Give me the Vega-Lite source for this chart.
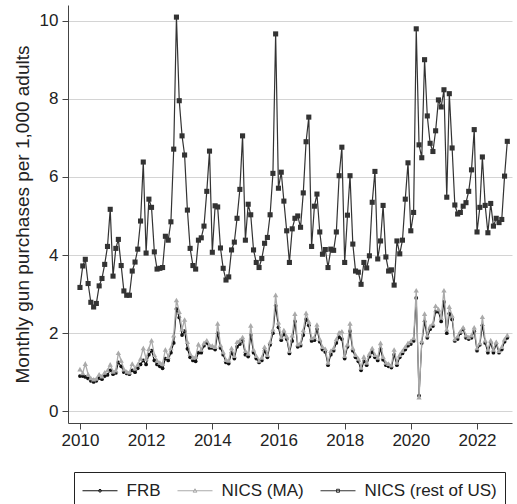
{
  "$schema": "https://vega.github.io/schema/vega-lite/v6.json",
  "width": 444,
  "height": 418,
  "autosize": "none",
  "padding": {"left": 68, "top": 5, "right": 5, "bottom": 81},
  "background": "white",
  "config": {"view": {"stroke": null}, "font": "Liberation Sans"},
  "data": {
    "format": {"parse": {"d": "utc:'%Y-%m'"}},
    "values": [
      {"d":"2010-01","f":0.90,"a":1.08,"r":3.17},{"d":"2010-02","f":0.90,"a":0.98,"r":3.72},{"d":"2010-03","f":0.88,"a":1.22,"r":3.89},{"d":"2010-04","f":0.84,"a":0.95,"r":3.27},{"d":"2010-05","f":0.78,"a":0.85,"r":2.79},{"d":"2010-06","f":0.75,"a":0.82,"r":2.67},{"d":"2010-07","f":0.78,"a":0.84,"r":2.76},{"d":"2010-08","f":0.85,"a":0.95,"r":3.21},{"d":"2010-09","f":0.82,"a":0.90,"r":3.40},{"d":"2010-10","f":0.90,"a":1.00,"r":3.76},{"d":"2010-11","f":0.93,"a":1.05,"r":4.22},{"d":"2010-12","f":1.05,"a":1.20,"r":5.17},
      {"d":"2011-01","f":0.95,"a":1.02,"r":3.46},{"d":"2011-02","f":0.98,"a":1.05,"r":4.17},{"d":"2011-03","f":1.25,"a":1.50,"r":4.40},{"d":"2011-04","f":1.15,"a":1.30,"r":3.73},{"d":"2011-05","f":1.00,"a":1.08,"r":3.08},{"d":"2011-06","f":0.97,"a":1.02,"r":2.97},{"d":"2011-07","f":0.95,"a":1.00,"r":2.97},{"d":"2011-08","f":1.05,"a":1.22,"r":3.59},{"d":"2011-09","f":1.00,"a":1.10,"r":3.82},{"d":"2011-10","f":1.10,"a":1.20,"r":4.15},{"d":"2011-11","f":1.20,"a":1.35,"r":4.87},{"d":"2011-12","f":1.30,"a":1.62,"r":6.38},
      {"d":"2012-01","f":1.20,"a":1.35,"r":4.05},{"d":"2012-02","f":1.45,"a":1.60,"r":5.43},{"d":"2012-03","f":1.55,"a":1.82,"r":5.22},{"d":"2012-04","f":1.30,"a":1.45,"r":4.08},{"d":"2012-05","f":1.20,"a":1.30,"r":3.64},{"d":"2012-06","f":1.15,"a":1.25,"r":3.66},{"d":"2012-07","f":1.10,"a":1.22,"r":3.68},{"d":"2012-08","f":1.35,"a":1.58,"r":4.48},{"d":"2012-09","f":1.30,"a":1.40,"r":4.38},{"d":"2012-10","f":1.50,"a":1.62,"r":4.85},{"d":"2012-11","f":1.75,"a":1.95,"r":6.71},{"d":"2012-12","f":2.62,"a":2.85,"r":10.09},
      {"d":"2013-01","f":2.40,"a":2.55,"r":7.95},{"d":"2013-02","f":1.95,"a":2.10,"r":7.05},{"d":"2013-03","f":2.05,"a":2.35,"r":6.56},{"d":"2013-04","f":1.60,"a":1.78,"r":5.15},{"d":"2013-05","f":1.38,"a":1.48,"r":4.17},{"d":"2013-06","f":1.30,"a":1.38,"r":3.73},{"d":"2013-07","f":1.28,"a":1.40,"r":3.64},{"d":"2013-08","f":1.50,"a":1.72,"r":4.38},{"d":"2013-09","f":1.50,"a":1.58,"r":4.44},{"d":"2013-10","f":1.68,"a":1.75,"r":4.74},{"d":"2013-11","f":1.75,"a":1.82,"r":5.63},{"d":"2013-12","f":1.62,"a":1.70,"r":6.66},
      {"d":"2014-01","f":1.62,"a":1.68,"r":4.07},{"d":"2014-02","f":1.58,"a":1.65,"r":5.26},{"d":"2014-03","f":2.00,"a":2.25,"r":5.23},{"d":"2014-04","f":1.62,"a":1.70,"r":4.18},{"d":"2014-05","f":1.45,"a":1.52,"r":3.66},{"d":"2014-06","f":1.25,"a":1.32,"r":3.36},{"d":"2014-07","f":1.22,"a":1.30,"r":3.44},{"d":"2014-08","f":1.50,"a":1.62,"r":4.13},{"d":"2014-09","f":1.35,"a":1.42,"r":4.33},{"d":"2014-10","f":1.65,"a":1.78,"r":4.94},{"d":"2014-11","f":1.72,"a":1.82,"r":5.68},{"d":"2014-12","f":1.80,"a":1.90,"r":7.05},
      {"d":"2015-01","f":1.45,"a":1.55,"r":4.38},{"d":"2015-02","f":1.40,"a":1.48,"r":5.30},{"d":"2015-03","f":1.95,"a":2.20,"r":5.03},{"d":"2015-04","f":1.50,"a":1.58,"r":4.13},{"d":"2015-05","f":1.35,"a":1.42,"r":3.81},{"d":"2015-06","f":1.25,"a":1.30,"r":3.68},{"d":"2015-07","f":1.30,"a":1.38,"r":3.91},{"d":"2015-08","f":1.55,"a":1.65,"r":4.30},{"d":"2015-09","f":1.38,"a":1.45,"r":4.45},{"d":"2015-10","f":1.70,"a":1.78,"r":5.03},{"d":"2015-11","f":2.00,"a":2.10,"r":6.09},{"d":"2015-12","f":2.70,"a":2.98,"r":9.66},
      {"d":"2016-01","f":2.15,"a":2.28,"r":5.71},{"d":"2016-02","f":1.82,"a":1.90,"r":6.12},{"d":"2016-03","f":1.98,"a":2.08,"r":5.38},{"d":"2016-04","f":1.85,"a":1.92,"r":4.62},{"d":"2016-05","f":1.48,"a":1.55,"r":3.81},{"d":"2016-06","f":1.80,"a":1.95,"r":4.67},{"d":"2016-07","f":2.30,"a":2.50,"r":4.94},{"d":"2016-08","f":1.65,"a":1.72,"r":5.00},{"d":"2016-09","f":1.68,"a":1.75,"r":4.71},{"d":"2016-10","f":1.95,"a":2.08,"r":5.59},{"d":"2016-11","f":2.35,"a":2.52,"r":6.90},{"d":"2016-12","f":2.20,"a":2.30,"r":7.53},
      {"d":"2017-01","f":1.80,"a":1.88,"r":4.22},{"d":"2017-02","f":1.82,"a":1.90,"r":5.25},{"d":"2017-03","f":2.10,"a":2.22,"r":5.56},{"d":"2017-04","f":1.78,"a":1.85,"r":4.59},{"d":"2017-05","f":1.58,"a":1.65,"r":4.02},{"d":"2017-06","f":1.52,"a":1.60,"r":4.14},{"d":"2017-07","f":1.18,"a":1.25,"r":3.68},{"d":"2017-08","f":1.45,"a":1.55,"r":4.15},{"d":"2017-09","f":1.55,"a":1.62,"r":4.12},{"d":"2017-10","f":1.75,"a":1.85,"r":4.59},{"d":"2017-11","f":1.90,"a":2.02,"r":6.03},{"d":"2017-12","f":1.85,"a":2.05,"r":6.76},
      {"d":"2018-01","f":1.35,"a":1.42,"r":3.81},{"d":"2018-02","f":1.65,"a":1.72,"r":5.02},{"d":"2018-03","f":2.05,"a":2.25,"r":6.03},{"d":"2018-04","f":1.55,"a":1.62,"r":4.28},{"d":"2018-05","f":1.38,"a":1.45,"r":3.59},{"d":"2018-06","f":1.28,"a":1.35,"r":3.56},{"d":"2018-07","f":1.05,"a":1.12,"r":3.25},{"d":"2018-08","f":1.28,"a":1.40,"r":3.81},{"d":"2018-09","f":1.18,"a":1.25,"r":3.67},{"d":"2018-10","f":1.40,"a":1.48,"r":3.98},{"d":"2018-11","f":1.52,"a":1.62,"r":5.35},{"d":"2018-12","f":1.38,"a":1.45,"r":6.14},
      {"d":"2019-01","f":1.30,"a":1.38,"r":3.90},{"d":"2019-02","f":1.60,"a":1.75,"r":4.36},{"d":"2019-03","f":1.32,"a":1.40,"r":5.27},{"d":"2019-04","f":1.18,"a":1.25,"r":3.95},{"d":"2019-05","f":1.15,"a":1.22,"r":3.59},{"d":"2019-06","f":1.12,"a":1.18,"r":3.62},{"d":"2019-07","f":1.45,"a":1.58,"r":3.23},{"d":"2019-08","f":1.18,"a":1.25,"r":4.36},{"d":"2019-09","f":1.38,"a":1.45,"r":4.03},{"d":"2019-10","f":1.48,"a":1.55,"r":4.38},{"d":"2019-11","f":1.58,"a":1.65,"r":5.43},{"d":"2019-12","f":1.68,"a":1.75,"r":6.36},
      {"d":"2020-01","f":1.72,"a":1.80,"r":4.62},{"d":"2020-02","f":1.80,"a":1.88,"r":5.09},{"d":"2020-03","f":2.90,"a":3.10,"r":9.79},{"d":"2020-04","f":0.40,"a":0.36,"r":6.82},{"d":"2020-05","f":1.75,"a":1.80,"r":6.49},{"d":"2020-06","f":2.30,"a":2.50,"r":9.00},{"d":"2020-07","f":1.88,"a":1.95,"r":7.56},{"d":"2020-08","f":2.10,"a":2.18,"r":6.86},{"d":"2020-09","f":2.18,"a":2.25,"r":6.65},{"d":"2020-10","f":2.55,"a":2.70,"r":7.18},{"d":"2020-11","f":2.55,"a":2.62,"r":7.97},{"d":"2020-12","f":2.30,"a":2.40,"r":7.79},
      {"d":"2021-01","f":2.80,"a":3.10,"r":8.23},{"d":"2021-02","f":2.00,"a":2.10,"r":5.48},{"d":"2021-03","f":2.50,"a":2.68,"r":8.13},{"d":"2021-04","f":2.35,"a":2.45,"r":6.74},{"d":"2021-05","f":1.80,"a":1.85,"r":5.28},{"d":"2021-06","f":1.85,"a":1.92,"r":5.05},{"d":"2021-07","f":2.00,"a":2.05,"r":5.09},{"d":"2021-08","f":2.10,"a":2.15,"r":5.25},{"d":"2021-09","f":1.88,"a":1.95,"r":5.34},{"d":"2021-10","f":1.85,"a":1.90,"r":5.63},{"d":"2021-11","f":1.88,"a":1.95,"r":6.18},{"d":"2021-12","f":2.05,"a":2.15,"r":7.21},
      {"d":"2022-01","f":1.55,"a":1.62,"r":4.59},{"d":"2022-02","f":1.70,"a":1.75,"r":5.22},{"d":"2022-03","f":2.20,"a":2.42,"r":6.51},{"d":"2022-04","f":1.75,"a":1.82,"r":5.27},{"d":"2022-05","f":1.50,"a":1.58,"r":4.57},{"d":"2022-06","f":1.75,"a":1.82,"r":5.32},{"d":"2022-07","f":1.50,"a":1.58,"r":4.74},{"d":"2022-08","f":1.72,"a":1.78,"r":4.94},{"d":"2022-09","f":1.50,"a":1.55,"r":4.83},{"d":"2022-10","f":1.58,"a":1.65,"r":4.91},{"d":"2022-11","f":1.78,"a":1.85,"r":6.02},{"d":"2022-12","f":1.88,"a":1.95,"r":6.91}
    ]
  },
  "encoding": {
    "x": {
      "field": "d", "type": "temporal",
      "scale": {"type": "utc", "domain": [{"year": 2009, "month": 8, "date": 22, "utc": true}, {"year": 2023, "month": 1, "date": 22, "utc": true}]},
      "axis": {"title": null, "format": "%Y", "tickCount": {"interval": "year", "step": 2}, "grid": false,
               "domainColor": "#444", "tickColor": "#444", "tickSize": 6, "labelFontSize": 17, "labelColor": "#222",
               "labelPadding": 3, "labelFlush": false, "labelOverlap": false}
    }
  },
  "layer": [
    {
      "mark": {"type": "line", "color": "#111111", "strokeWidth": 1.1,
               "point": {"shape": "circle", "size": 14, "filled": true, "color": "#111111"}},
      "encoding": {
        "y": {"field": "f", "type": "quantitative",
              "scale": {"domain": [-0.3, 10.4], "nice": false, "zero": false},
              "axis": {"title": "Monthly gun purchases per 1,000 adults", "values": [0, 2, 4, 6, 8, 10],
                       "grid": true, "gridColor": "#d4d4d4", "gridWidth": 1,
                       "domainColor": "#444", "tickColor": "#444", "tickSize": 6,
                       "labelFontSize": 17, "labelColor": "#222", "labelPadding": 4,
                       "titleFontSize": 19, "titleFontWeight": "normal", "titleColor": "#222", "titlePadding": 7}}
      }
    },
    {
      "mark": {"type": "line", "color": "#aaaaaa", "strokeWidth": 1.3,
               "point": {"shape": "triangle-up", "size": 28, "filled": true, "color": "#aaaaaa"}},
      "encoding": {"y": {"field": "a", "type": "quantitative"}}
    },
    {
      "mark": {"type": "line", "color": "#333333", "strokeWidth": 1.2,
               "point": {"shape": "square", "size": 26, "filled": true, "color": "#333333"}},
      "encoding": {"y": {"field": "r", "type": "quantitative"}}
    },
    {
      "data": {"values": [{"s": "FRB"}, {"s": "NICS (MA)"}, {"s": "NICS (rest of US)"}]},
      "mark": {"type": "point", "opacity": 0, "filled": true},
      "encoding": {
        "x": {"value": 0},
        "fill": {"field": "s", "type": "nominal",
                 "scale": {"domain": ["FRB", "NICS (MA)", "NICS (rest of US)"], "range": ["#111111", "#aaaaaa", "#333333"]},
                 "legend": {"title": null, "orient": "none", "legendX": 6, "legendY": 467, "direction": "horizontal",
                            "symbolSize": 400, "symbolStrokeWidth": 1, "symbolOpacity": 1, "symbolOffset": 7.5,
                            "labelFontSize": 17, "labelColor": "#222", "labelOffset": 16, "columnPadding": 14,
                            "padding": 8, "strokeColor": "#222", "fillColor": "white", "labelFont": "Liberation Sans"}},
        "stroke": {"field": "s", "type": "nominal",
                   "scale": {"domain": ["FRB", "NICS (MA)", "NICS (rest of US)"], "range": ["#111111", "#aaaaaa", "#333333"]}},
        "shape": {"field": "s", "type": "nominal",
                  "scale": {"domain": ["FRB", "NICS (MA)", "NICS (rest of US)"],
                            "range": ["M-1.75,0H1.75M0.14,0A0.14,0.14 0 1,1 -0.14,0A0.14,0.14 0 1,1 0.14,0Z",
                                      "M-1.75,0H1.75M0,-0.2L0.19,0.14H-0.19Z",
                                      "M-1.75,0H1.75M-0.15,-0.15H0.15V0.15H-0.15Z"]}}
      }
    }
  ]
}
